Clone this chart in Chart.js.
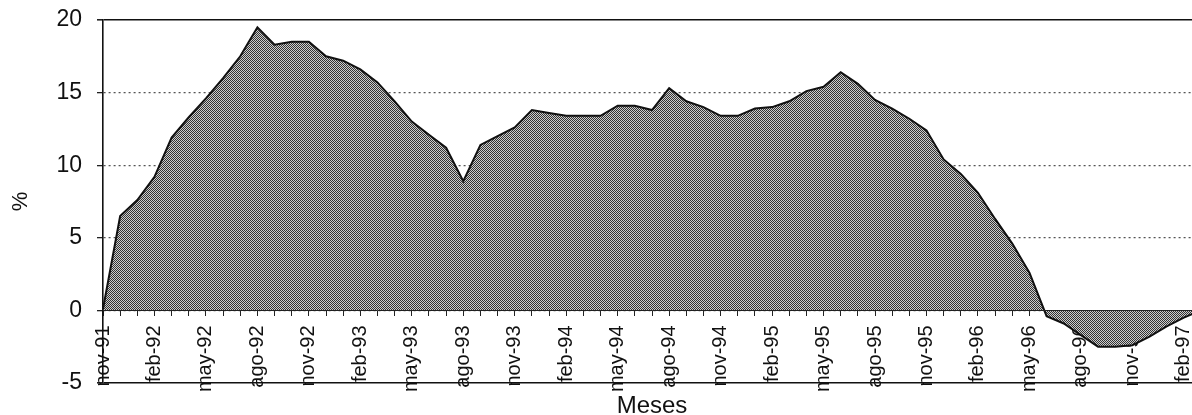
<!DOCTYPE html>
<html lang="es">
<head>
<meta charset="UTF-8">
<title>Meses</title>
<script src="https://cdn.jsdelivr.net/npm/chart.js"></script>
<style>
  html, body { margin: 0; padding: 0; background: #fff; overflow: hidden; }
</style>
</head>
<body>
<canvas id="chart" width="1204" height="415"></canvas>
<script>
// monthly categories, nov-91 .. mar-97
const months = [
  'nov-91','dic-91','ene-92','feb-92','mar-92','abr-92','may-92','jun-92','jul-92','ago-92','sep-92','oct-92',
  'nov-92','dic-92','ene-93','feb-93','mar-93','abr-93','may-93','jun-93','jul-93','ago-93','sep-93','oct-93',
  'nov-93','dic-93','ene-94','feb-94','mar-94','abr-94','may-94','jun-94','jul-94','ago-94','sep-94','oct-94',
  'nov-94','dic-94','ene-95','feb-95','mar-95','abr-95','may-95','jun-95','jul-95','ago-95','sep-95','oct-95',
  'nov-95','dic-95','ene-96','feb-96','mar-96','abr-96','may-96','jun-96','jul-96','ago-96','sep-96','oct-96',
  'nov-96','dic-96','ene-97','feb-97','mar-97'
];

// % values
const values = [
  0.1, 6.5, 7.6, 9.2, 11.9, 13.3, 14.6, 16.0, 17.5, 19.5, 18.3, 18.5,
  18.5, 17.5, 17.2, 16.6, 15.7, 14.4, 13.0, 12.1, 11.2, 8.9, 11.4, 12.0,
  12.6, 13.8, 13.6, 13.4, 13.4, 13.4, 14.1, 14.1, 13.8, 15.3, 14.4, 14.0,
  13.4, 13.4, 13.9, 14.0, 14.4, 15.1, 15.4, 16.4, 15.6, 14.5, 13.9, 13.2,
  12.4, 10.4, 9.4, 8.1, 6.3, 4.6, 2.6, -0.4, -0.9, -1.7, -2.5, -2.5,
  -2.4, -1.8, -1.1, -0.5, 0.0
];

const yMin = -5;
const yMax = 20;
const yStep = 5;
const labelEvery = 3;

const FONT = "'Liberation Sans', Arial, sans-serif";

const canvas = document.getElementById('chart');
const ctx = canvas.getContext('2d');

// stippled grey fill like the printed halftone
const tile = document.createElement('canvas');
tile.width = 2;
tile.height = 2;
const t = tile.getContext('2d');
t.fillStyle = '#cdcdcd';
t.fillRect(0, 0, 2, 2);
t.fillStyle = '#333';
t.fillRect(0, 0, 1, 1);
t.fillRect(1, 1, 1, 1);
const stipple = ctx.createPattern(tile, 'repeat');

const isEdge = v => v === yMin || v === yMax;

new Chart(ctx, {
  type: 'line',
  data: {
    labels: months,
    datasets: [{
      data: values,
      borderColor: '#111',
      borderWidth: 2,
      backgroundColor: stipple,
      fill: 'origin',
      pointRadius: 0,
      tension: 0
    }]
  },
  options: {
    responsive: false,
    animation: false,
    layout: { padding: { left: 0, right: 3, top: 20, bottom: 32 } },
    plugins: {
      legend: { display: false },
      tooltip: { enabled: false }
    },
    scales: {
      x: {
        position: { y: 0 },
        offset: false,
        grid: {
          drawOnChartArea: false,
          drawTicks: true,
          tickLength: 5,
          tickColor: '#222',
          tickWidth: 1
        },
        border: { display: true, color: '#222', width: 1, z: 1 },
        ticks: {
          autoSkip: false,
          maxRotation: 90,
          minRotation: 90,
          padding: 10,
          color: '#111',
          font: { family: FONT, size: 20 },
          callback: function (val, i) {
            return i % labelEvery === 0 ? this.getLabelForValue(val) : '';
          }
        },
        title: {
          display: true,
          text: 'Meses',
          color: '#111',
          font: { family: FONT, size: 24 },
          padding: { top: 0, bottom: 0 }
        },
        afterFit: scale => {
          scale.height = 110;
          scale.paddingLeft = 0;
          scale.paddingRight = 0;
        }
      },
      y: {
        min: yMin,
        max: yMax,
        ticks: {
          stepSize: yStep,
          padding: 15,
          color: '#111',
          font: { family: FONT, size: 23 }
        },
        grid: {
          color: c => (c.tick && isEdge(c.tick.value)) ? '#111' : '#555',
          lineWidth: c => (c.tick && isEdge(c.tick.value)) ? 1.6 : 1.3,
          tickLength: 6,
          tickColor: '#222'
        },
        border: {
          display: true,
          color: '#111',
          width: 1.6,
          dash: c => (c.tick && !isEdge(c.tick.value)) ? [2, 3] : []
        },
        title: {
          display: true,
          text: '%',
          color: '#111',
          font: { family: FONT, size: 22 },
          padding: { top: 8, bottom: 0 }
        },
        afterFit: scale => {
          scale.width = 103;
          scale.paddingTop = 0;
          scale.paddingBottom = 0;
        }
      }
    }
  }
});
</script>
</body>
</html>
